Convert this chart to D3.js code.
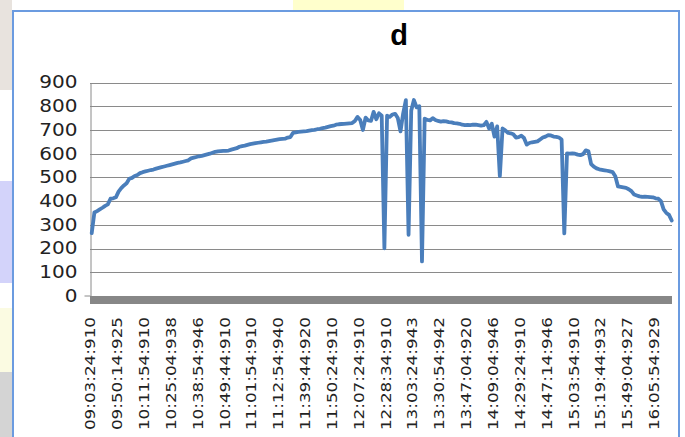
<!DOCTYPE html>
<html>
<head>
<meta charset="utf-8">
<script src="https://cdn.jsdelivr.net/npm/d3@7"></script>
<style>
  html, body { margin: 0; padding: 0; background: #ffffff; }
  svg { display: block; }
</style>
</head>
<body>
<svg id="chart" width="685" height="437"></svg>
<script>
// Chart title
const chartTitle = "d";

// Time labels shown on the category axis, one every ten samples
const tickLabels = [
  "09:03:24:910", "09:50:14:925", "10:11:54:910", "10:25:04:938", "10:38:54:946",
  "10:49:44:910", "11:01:54:910", "11:12:54:940", "11:39:44:920", "11:50:24:910",
  "12:07:24:910", "12:28:34:910", "13:03:24:943", "13:30:54:942", "13:47:04:920",
  "14:09:04:946", "14:29:24:910", "14:47:14:946", "15:03:54:910", "15:19:44:932",
  "15:49:04:927", "16:05:54:929"
];
const labelEvery = 10;

// Value axis ticks
const yTicks = [0, 100, 200, 300, 400, 500, 600, 700, 800, 900];

// Sampled readings, in time order
const values = [
  265, 352, 358, 365, 372, 380, 386, 410, 412, 416,
  440, 455, 466, 475, 494, 498, 506, 510, 518,
  522, 525, 528, 531, 533, 537, 540, 543, 546, 549,
  552, 555, 558, 561, 563, 566, 569, 572, 580,
  583, 586, 589, 591, 594, 597, 600, 604, 608, 610,
  611, 612, 612, 613, 617, 620, 623, 629, 632,
  634, 637, 640, 642, 644, 646, 648, 650, 651, 653,
  655, 657, 659, 661, 662, 663, 668, 670, 688,
  690, 692, 693, 694, 695, 697, 699, 700, 703, 705,
  708, 710, 713, 716, 718, 722, 724, 725, 726,
  727, 728, 729, 738, 755, 742, 700, 752, 740,
  738, 776, 745, 770, 760, 201, 760, 755, 765, 768,
  750, 694, 770, 826, 258, 782, 826, 795, 800, 146,
  748, 742, 740, 750, 742, 738, 735, 737, 736, 733,
  732, 729, 728, 726, 722, 720, 721, 720, 722,
  722, 720, 718, 720, 734, 706, 726, 672, 715,
  505, 706, 698, 688, 686, 682, 668, 670, 676, 666,
  638, 645, 648, 650, 652, 660, 668, 672, 678,
  677, 672, 671, 668, 660, 264, 601, 600, 601, 600,
  596, 594, 598, 614, 610, 556, 545, 538, 534,
  532, 530, 528, 525, 522, 505, 462, 460, 458, 456,
  450, 442, 428, 424, 420, 418, 419, 418, 417,
  416, 412, 410, 400, 365, 350, 342, 318
];

const svg = d3.select("#chart");

// Surrounding page strips outside the chart frame
const leftStrip = [
  { y0: 0, y1: 90, c: "#e8e3de" },
  { y0: 90, y1: 181, c: "#ffffff" },
  { y0: 181, y1: 283, c: "#d3d3fa" },
  { y0: 283, y1: 308, c: "#ffffff" },
  { y0: 308, y1: 372, c: "#fbfbe2" },
  { y0: 372, y1: 437, c: "#d4d4d4" }
];
svg.selectAll("rect.strip").data(leftStrip).enter().append("rect")
  .attr("class", "strip")
  .attr("x", 0).attr("y", d => d.y0)
  .attr("width", 12).attr("height", d => d.y1 - d.y0)
  .attr("fill", d => d.c);
svg.append("rect").attr("x", 293).attr("y", 0).attr("width", 111).attr("height", 10)
  .attr("fill", "#ffffcc");

// Chart frame
svg.append("rect")
  .attr("x", 13).attr("y", 11).attr("width", 666).attr("height", 440)
  .attr("fill", "#ffffff").attr("stroke", "#6b9be0").attr("stroke-width", 2);

// Title
svg.append("text")
  .attr("x", 399).attr("y", 45)
  .attr("text-anchor", "middle")
  .attr("font-family", "Liberation Sans, Arial, sans-serif")
  .attr("font-weight", "bold")
  .attr("font-size", 29)
  .attr("fill", "#000")
  .text(chartTitle);

// Plot geometry
const plotLeft = 90, plotRight = 672;
const x = d3.scaleLinear().domain([0, values.length - 1]).range([91.7, 671.7]);
const y = d3.scaleLinear().domain([0, 900]).range([296, 82.5]);

// Horizontal gridlines
const grid = svg.append("g");
grid.selectAll("line").data(yTicks.filter(t => t > 0)).enter().append("line")
  .attr("x1", plotLeft).attr("x2", plotRight)
  .attr("y1", d => Math.round(y(d)) + 0.5).attr("y2", d => Math.round(y(d)) + 0.5)
  .attr("stroke", "#8a8a8a").attr("stroke-width", 1);

// Vertical value axis
const yAxis = svg.append("g")
  .attr("transform", `translate(${plotLeft + 0.5},0)`)
  .call(d3.axisLeft(y).tickValues(yTicks).tickSize(0).tickPadding(13));
yAxis.select(".domain").attr("stroke", "#8a8a8a");
yAxis.selectAll("text")
  .attr("font-family", "DejaVu Sans, sans-serif")
  .attr("font-size", 17)
  .attr("fill", "#222")
  .attr("transform", function () {
    const t = d3.select(this);
    const tx = +t.attr("x") || 0;
    return `translate(${tx},0) scale(1.18,1) translate(${-tx},0)`;
  });
yAxis.append("line")
  .attr("x1", -6).attr("x2", 0).attr("y1", y(0)).attr("y2", y(0))
  .attr("stroke", "#8a8a8a");

// Floor band along the category axis
svg.append("rect")
  .attr("x", plotLeft).attr("y", y(0))
  .attr("width", plotRight - plotLeft).attr("height", 8)
  .attr("fill", "#878787");

// Category axis labels, rotated
const tickIdx = tickLabels.map((_, i) => i * labelEvery);
const xAxis = svg.append("g")
  .attr("transform", `translate(0,${y(0) + 8})`)
  .call(d3.axisBottom(x).tickValues(tickIdx).tickSize(0)
    .tickFormat((d, i) => tickLabels[i]));
xAxis.select(".domain").remove();
xAxis.selectAll("text")
  .attr("font-family", "DejaVu Sans, sans-serif")
  .attr("font-size", 14)
  .attr("fill", "#222")
  .attr("text-anchor", "end")
  .attr("dy", "0.36em")
  .attr("y", 0)
  .attr("transform", "translate(-2,13) rotate(-90) scale(1.2,1)");

// Data line
const line = d3.line()
  .x((d, i) => x(i))
  .y(d => y(d));
svg.append("path")
  .datum(values)
  .attr("d", line)
  .attr("fill", "none")
  .attr("stroke", "#4a7ebb")
  .attr("stroke-width", 3.8)
  .attr("stroke-linejoin", "round")
  .attr("stroke-linecap", "round");
</script>
</body>
</html>
